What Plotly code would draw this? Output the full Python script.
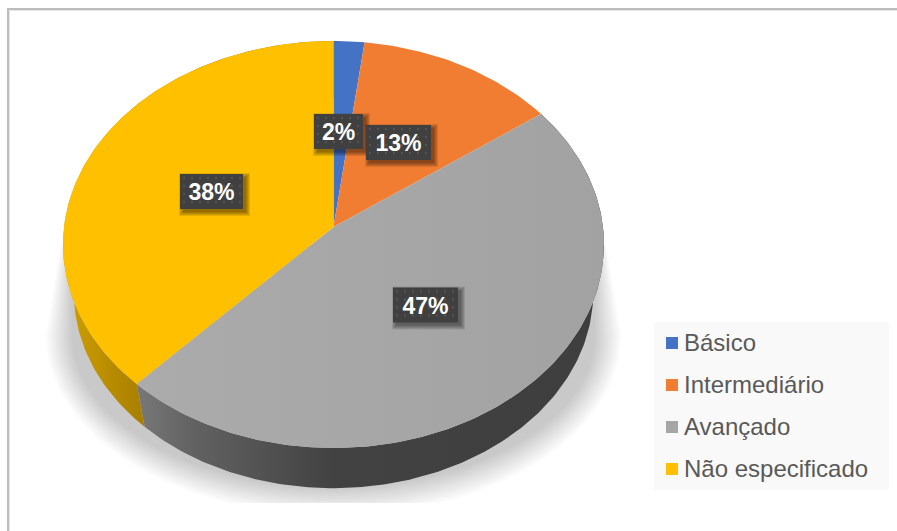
import numpy as np
import plotly.graph_objects as go

# Chart data
categories = ["Básico", "Intermediário", "Avançado", "Não especificado"]
shares = [2, 13, 47, 38]
slice_labels = ["2%", "13%", "47%", "38%"]

# Styling
top_colors = ["#4472c4", "#f07d32", "#a6a6a6", "#ffc000"]
label_centers = [(338.5, 131.5), (398.5, 142.5), (425.5, 305), (211.5, 191.5)]
label_widths = [49, 65, 65, 63]
label_height = 35

W, H = 897, 531
CX = 333.5
TOP_CY = 227        # where the slices meet on the upper face
PERSP = 0.086       # foreshortening of the far edge
RX, RY = 269.5, 202
BASE_SCALE = 0.96   # lower rim sits slightly further away
BASE_CY = 276


def rim(start_pct, end_pct, scale=1.0, cy=TOP_CY, n=None):
    """Project an arc of the disc, given in percent clockwise from 12 o'clock."""
    n = n or max(3, int(abs(end_pct - start_pct) * 4))
    theta = np.radians(np.linspace(start_pct, end_pct, n) * 3.6)
    u, v = np.sin(theta), np.cos(theta)
    w = 1 + PERSP * v
    return CX + scale * RX * u / w, cy - scale * RY * v / w


fig = go.Figure()


def polygon(x, y, **kw):
    fig.add_trace(go.Scatter(x=np.append(x, x[0]), y=np.append(y, y[0]), mode="lines",
                             fill="toself", line=dict(width=0), hoverinfo="skip",
                             showlegend=False, **kw))


# Soft floor shadow: stacked translucent outlines, cut off at a straight lower edge
layers = 18
alpha = 1 - (1 - 0.21) ** (1 / layers)
for t in np.linspace(1, 0, layers):
    a = 262 + 26 * t
    b = 153 + 28 * t
    ang = np.radians(np.linspace(0, 180, 90))
    sx = 333.5 + a * np.cos(ang)
    sy = np.minimum(335 + b * np.sin(ang), 503)
    tip = 262 + 11 * t
    sx = np.concatenate(([333.5 + tip], sx, [333.5 - tip]))
    sy = np.concatenate(([245], sy, [245]))
    polygon(sx, sy, fillcolor=f"rgba(0,0,0,{alpha:.4f})")

# Cumulative slice boundaries
edges = np.concatenate(([0], np.cumsum(shares)))

# Side wall of the two slices that face the viewer
side_scales = {
    2: [[0, "#787878"], [0.12, "#626262"], [0.42, "#424242"], [1, "#3e3e3e"]],
    3: [[0, "#cfa000"], [0.30, "#a87e00"], [1, "#a87e00"]],
}
for i, scale in side_scales.items():
    tx, ty = rim(edges[i], edges[i + 1])
    bx, by = rim(edges[i], edges[i + 1], BASE_SCALE, BASE_CY)
    polygon(np.concatenate((tx, bx[::-1])), np.concatenate((ty, by[::-1])),
            fillgradient=dict(type="horizontal", colorscale=scale))

# Upper face
for i, color in enumerate(top_colors):
    rx_, ry_ = rim(edges[i], edges[i + 1])
    px = np.concatenate(([CX], rx_))
    py = np.concatenate(([TOP_CY], ry_))
    if i == 2:
        polygon(px, py, fillgradient=dict(
            type="horizontal", colorscale=[[0, "#ababab"], [1, "#a2a2a2"]]))
    else:
        polygon(px, py, fillcolor=color)

# Value labels: shadowed dark plates with a faint dot texture
for (cx, cy), w in zip(label_centers, label_widths):
    x0, x1, y0, y1 = cx - w / 2, cx + w / 2, cy - label_height / 2, cy + label_height / 2
    for grow in (4, 3, 2, 1, 0):
        polygon(np.array([x0 + 3 - grow, x1 + 3 + grow, x1 + 3 + grow, x0 + 3 - grow]),
                np.array([y0 + 3 - grow, y0 + 3 - grow, y1 + 3 + grow, y1 + 3 + grow]),
                fillcolor="rgba(0,0,0,0.10)")
    polygon(np.array([x0, x1, x1, x0]), np.array([y0, y0, y1, y1]), fillcolor="#404040")
    gx, gy = np.meshgrid(np.arange(x0 + 4, x1 - 1, 8), np.arange(y0 + 4, y1 - 1, 8))
    fig.add_trace(go.Scatter(x=gx.ravel(), y=gy.ravel(), mode="markers", hoverinfo="skip",
                             marker=dict(size=2.5, color="rgba(255,255,255,0.10)"),
                             showlegend=False))

fig.add_trace(go.Scatter(
    x=[c[0] for c in label_centers], y=[c[1] + 3 for c in label_centers],
    mode="text", text=slice_labels, hoverinfo="skip", showlegend=False,
    textposition="middle center",
    textfont=dict(family="Liberation Sans", size=23, color="white", weight=700)))

# Key panel
legend_rows = [343, 385, 427, 469]
fig.add_trace(go.Scatter(
    x=[672] * 4, y=legend_rows, mode="markers", hoverinfo="skip", showlegend=False,
    marker=dict(symbol="square", size=12, color=top_colors)))
fig.add_trace(go.Scatter(
    x=[684] * 4, y=[r + 2 for r in legend_rows], mode="text", text=categories, hoverinfo="skip",
    showlegend=False, textposition="middle right",
    textfont=dict(family="Liberation Sans", size=24, color="#595959")))

fig.update_layout(
    width=W, height=H, autosize=False,
    margin=dict(l=0, r=0, t=0, b=0),
    paper_bgcolor="white", plot_bgcolor="white", showlegend=False,
    xaxis=dict(range=[0, W], visible=False, fixedrange=True),
    yaxis=dict(range=[H, 0], visible=False, fixedrange=True),
    shapes=[
        dict(type="rect", x0=654, x1=889, y0=322, y1=490, layer="below",
             fillcolor="#f9f9f9", line_width=0),
        # Chart frame: only the top and left edges remain in view
        dict(type="rect", x0=7, x1=W, y0=8, y1=10, layer="below",
             fillcolor="#bdbdbd", line_width=0),
        dict(type="rect", x0=7, x1=9, y0=8, y1=H, layer="below",
             fillcolor="#bdbdbd", line_width=0),
        dict(type="rect", x0=9, x1=W, y0=10, y1=11, layer="below",
             fillcolor="#e6e6e6", line_width=0),
        dict(type="rect", x0=9, x1=10, y0=10, y1=H, layer="below",
             fillcolor="#e6e6e6", line_width=0),
    ],
)

fig.write_html("out.html", config=dict(displayModeBar=False))
